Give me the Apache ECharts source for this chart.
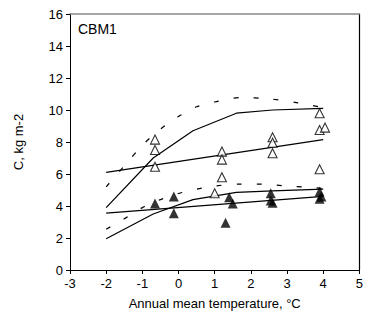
<!DOCTYPE html>
<html>
<head>
<meta charset="utf-8">
<script src="https://cdn.jsdelivr.net/npm/echarts@6/dist/echarts.min.js"></script>
<style>
  html, body { margin: 0; padding: 0; background: #fff; }
  #chart { width: 366px; height: 320px; }
</style>
</head>
<body>
<div id="chart"></div>
<script>
// observed carbon, open = total, filled = lower pool
const openPoints = [
  [-0.65, 8.15], [-0.65, 7.5], [-0.65, 6.45],
  [1.0, 4.8],
  [1.2, 7.4], [1.2, 6.9], [1.2, 5.8],
  [2.6, 8.3], [2.6, 7.95], [2.6, 7.3],
  [3.9, 9.8], [3.9, 8.75], [4.05, 8.9], [3.9, 6.3],
];
const filledPoints = [
  [-0.65, 4.15], [-0.13, 4.6], [-0.13, 3.55],
  [1.3, 2.95], [1.4, 4.55], [1.5, 4.15],
  [2.55, 4.8], [2.55, 4.35], [2.6, 4.2],
  [3.9, 4.9], [3.95, 4.6], [3.9, 4.45],
];

// model curves
const upperModel = [[-2, 3.9], [-0.7, 7.0], [0.4, 8.7], [1.6, 9.8], [2.6, 10.0], [4, 10.1]];
const upperDashed = [
  [-2, 5.2], [-1.5, 6.5], [-1, 7.8], [-0.5, 8.8], [0, 9.6], [0.5, 10.2],
  [1, 10.5], [1.7, 10.78], [2.5, 10.7], [3.3, 10.45], [4, 10.15],
];
const upperTrend = [[-2, 6.1], [4, 8.15]];

const lowerModel = [[-2, 1.95], [-0.7, 3.5], [0.4, 4.4], [1.6, 4.85], [2.6, 4.95], [4, 5.05]];
const lowerDashed = [
  [-2, 2.55], [-1.5, 3.2], [-1, 3.9], [-0.5, 4.4], [0, 4.78], [0.5, 5.05],
  [1, 5.25], [1.7, 5.37], [2.3, 5.37], [2.9, 5.27], [3.5, 5.18], [4, 5.1],
];
const lowerTrend = [[-2, 3.55], [4, 4.6]];

const FONT = 'Liberation Sans, Arial, sans-serif';

const chart = echarts.init(document.getElementById('chart'), null, { renderer: 'svg' });

const solid = (data) => ({
  type: 'line',
  data,
  symbol: 'none',
  silent: true,
  lineStyle: { color: '#000', width: 1.2 },
});
const dashed = (data) => ({
  type: 'line',
  data,
  smooth: 0.3,
  symbol: 'none',
  silent: true,
  lineStyle: { color: '#000', width: 1.2, type: [5, 15] },
});

chart.setOption({
  animation: false,
  textStyle: { fontFamily: FONT, color: '#000' },
  title: {
    text: 'CBM1',
    left: 73,
    top: 17,
    textStyle: { fontFamily: FONT, fontSize: 14, fontWeight: 'normal', color: '#000' },
  },
  grid: { left: 70, right: 5, top: 14, bottom: 50 },
  xAxis: [
    {
      type: 'value',
      min: -3,
      max: 5,
      interval: 1,
      name: 'Annual mean temperature, °C',
      nameLocation: 'middle',
      nameGap: 27,
      nameTextStyle: { fontSize: 13, color: '#000' },
      axisLine: { onZero: false, lineStyle: { color: '#000', width: 1 } },
      axisTick: { length: 4, lineStyle: { color: '#000' } },
      axisLabel: { fontSize: 13, color: '#000', margin: 7 },
      splitLine: { show: false },
    },
    {
      type: 'value',
      position: 'top',
      min: -3,
      max: 5,
      axisLine: { onZero: false, lineStyle: { color: '#888', width: 1.5 } },
      axisTick: { show: false },
      axisLabel: { show: false },
      splitLine: { show: false },
    },
  ],
  yAxis: [
    {
      type: 'value',
      min: 0,
      max: 16,
      interval: 2,
      name: 'C, kg m-2',
      nameLocation: 'middle',
      nameGap: 45,
      nameTextStyle: { fontSize: 13, color: '#000' },
      axisLine: { show: true, onZero: false, lineStyle: { color: '#000', width: 1 } },
      axisTick: { show: true, length: 4, lineStyle: { color: '#000' } },
      axisLabel: { fontSize: 13, color: '#000', margin: 7 },
      splitLine: { show: false },
    },
    {
      type: 'value',
      position: 'right',
      min: 0,
      max: 16,
      axisLine: { show: true, onZero: false, lineStyle: { color: '#000', width: 1.2 } },
      axisTick: { show: false },
      axisLabel: { show: false },
      splitLine: { show: false },
    },
  ],
  series: [
    solid(upperModel),
    dashed(upperDashed),
    solid(upperTrend),
    solid(lowerModel),
    dashed(lowerDashed),
    solid(lowerTrend),
    {
      type: 'scatter',
      data: openPoints,
      symbol: 'triangle',
      symbolSize: [9, 9],
      itemStyle: { color: '#fff', borderColor: '#000', borderWidth: 1.1 },
      z: 5,
    },
    {
      type: 'scatter',
      data: filledPoints,
      symbol: 'triangle',
      symbolSize: [10, 10],
      itemStyle: { color: '#000' },
      z: 6,
    },
  ],
});
</script>
</body>
</html>
